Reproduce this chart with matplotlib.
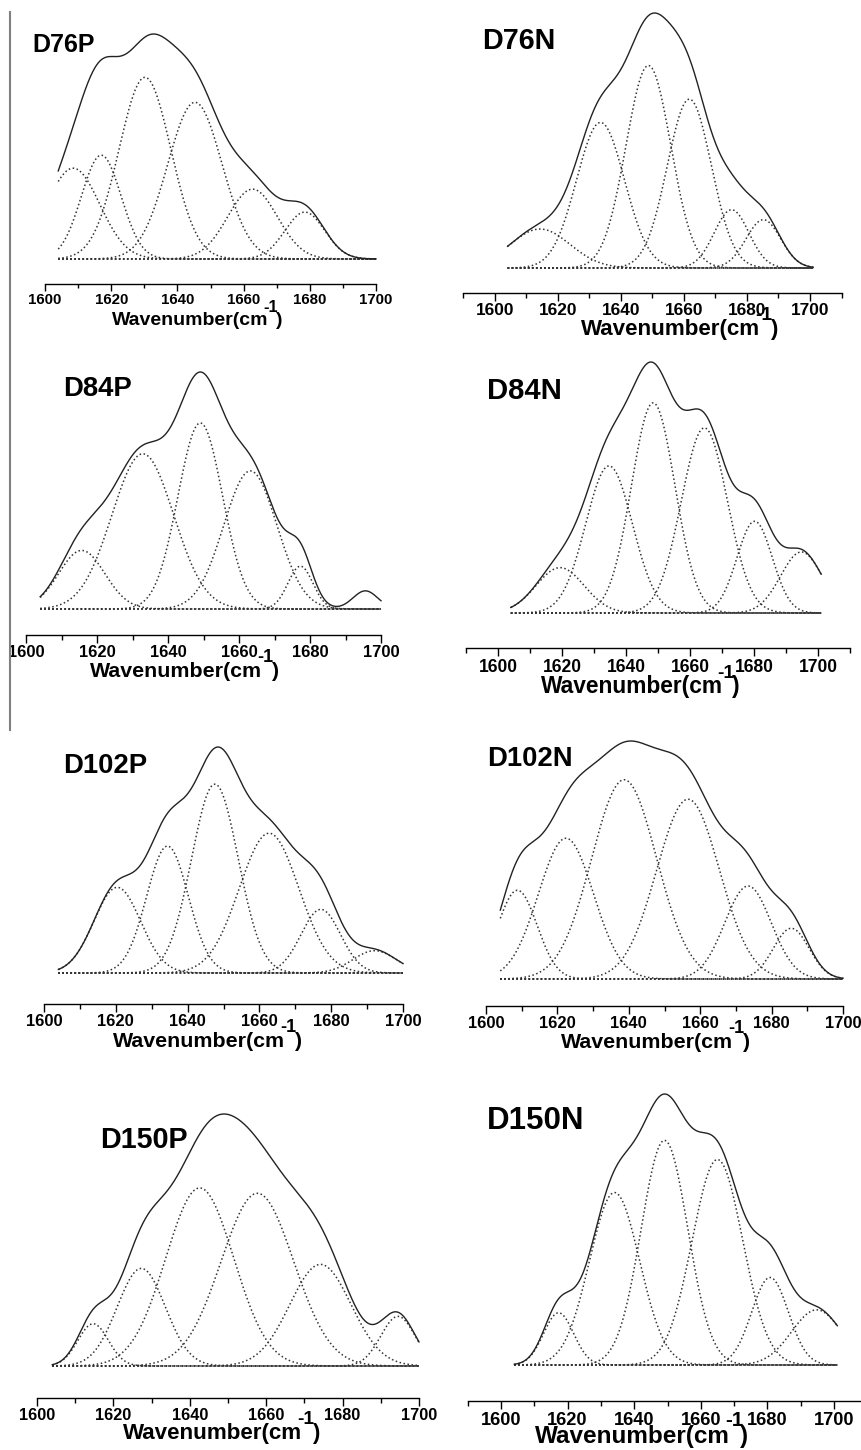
import numpy as np
import matplotlib
matplotlib.use("Agg")
import matplotlib.pyplot as plt
from matplotlib.ticker import MultipleLocator
from matplotlib.lines import Line2D

plt.rcParams['font.family'] = ['Liberation Sans', 'DejaVu Sans']
plt.rcParams['font.weight'] = 'bold'

PANELS = ["D76P", "D76N", "D84P", "D84N", "D102P", "D102N", "D150P", "D150N"]

# fitted amide I bands: centre (cm-1), height (relative), sigma (cm-1)
D76P_CENTERS = [1608.5, 1617.0, 1630.2, 1645.3, 1662.7, 1678.5]
D76P_HEIGHTS = [91, 104, 182, 157, 70, 47]
D76P_WIDTHS = [8.0, 6.0, 7.8, 8.2, 7.5, 6.0]

D76N_CENTERS = [1614.3, 1633.5, 1648.7, 1661.7, 1675.1, 1685.2]
D76N_HEIGHTS = [117, 437, 608, 507, 175, 145]
D76N_WIDTHS = [9.5, 7.6, 7.1, 7.0, 5.5, 5.5]

D84P_CENTERS = [1615.7, 1632.9, 1649.1, 1663.2, 1677.3]
D84P_HEIGHTS = [171, 453, 543, 403, 125]
D84P_WIDTHS = [6.5, 8.7, 6.3, 7.5, 3.5]

D84N_CENTERS = [1619.4, 1634.7, 1648.5, 1664.5, 1680.2, 1694.8]
D84N_HEIGHTS = [136, 441, 630, 555, 275, 183]
D84N_WIDTHS = [7.5, 7.3, 6.8, 7.2, 5.5, 6.5]

D102P_CENTERS = [1620.4, 1634.4, 1647.6, 1662.7, 1677.1, 1692.1]
D102P_HEIGHTS = [253, 375, 558, 413, 188, 66]
D102P_WIDTHS = [6.5, 5.8, 6.5, 8.3, 5.5, 6.0]

D102N_CENTERS = [1608.8, 1622.4, 1638.7, 1656.6, 1673.4, 1685.5]
D102N_HEIGHTS = [273, 433, 613, 553, 286, 156]
D102N_WIDTHS = [5.5, 7.7, 9.1, 8.8, 6.5, 5.0]

D150P_CENTERS = [1614.7, 1627.3, 1642.6, 1657.7, 1674.2, 1694.5]
D150P_HEIGHTS = [126, 291, 531, 515, 303, 148]
D150P_WIDTHS = [4.0, 6.3, 8.9, 9.5, 8.0, 4.5]

D150N_CENTERS = [1617.3, 1634.1, 1649.1, 1665.0, 1680.8, 1694.8]
D150N_HEIGHTS = [158, 522, 680, 622, 265, 167]
D150N_WIDTHS = [4.5, 7.5, 7.0, 7.6, 5.5, 7.5]

# band present in the measured envelope of D84P but not drawn as a component
D84P_EXTRA_CENTER = 1695.6
D84P_EXTRA_HEIGHT = 53
D84P_EXTRA_WIDTH = 3.5

WN_START = 1604
WN_END = [1700, 1701, 1700, 1701, 1700, 1700, 1700, 1701]
TICK_VALUES = [1600, 1620, 1640, 1660, 1680, 1700]
TICK_LABELS = ["1600", "1620", "1640", "1660", "1680", "1700"]
XLABEL_PARTS = ["Wavenumber(cm", "-1", ")"]

CENTERS = dict(zip(PANELS, [D76P_CENTERS, D76N_CENTERS, D84P_CENTERS, D84N_CENTERS,
                            D102P_CENTERS, D102N_CENTERS, D150P_CENTERS, D150N_CENTERS]))
HEIGHTS = dict(zip(PANELS, [D76P_HEIGHTS, D76N_HEIGHTS, D84P_HEIGHTS, D84N_HEIGHTS,
                            D102P_HEIGHTS, D102N_HEIGHTS, D150P_HEIGHTS, D150N_HEIGHTS]))
WIDTHS = dict(zip(PANELS, [D76P_WIDTHS, D76N_WIDTHS, D84P_WIDTHS, D84N_WIDTHS,
                           D102P_WIDTHS, D102N_WIDTHS, D150P_WIDTHS, D150N_WIDTHS]))

# layout in pixels: x of 1600, x of 1700, xlim, axis line y, baseline y, top y
LAYOUT = [
    (45, 376, 1600, 1700, 284, 259, 34),
    (495, 810, 1590, 1710, 293, 268, 13),
    (26, 381, 1600, 1700, 635, 609, 372),
    (498, 818, 1590, 1710, 648, 613, 362),
    (44, 403, 1600, 1700, 1004, 973, 747),
    (486, 843, 1600, 1700, 1006, 979, 741),
    (37, 419, 1600, 1700, 1398, 1366, 1114),
    (501, 834, 1590, 1710, 1401, 1365, 1094),
]
# title (left x, centre y), xlabel (centre x, baseline y), text scales
TITLE_POS = [(32, 45), (482, 41), (63, 389), (487, 391), (63, 766), (487, 759), (100, 1140), (487, 1121)]
XLABEL_POS = [(197, 325), (679, 335), (184, 677), (640, 693), (207, 1047), (655, 1048), (221, 1439), (642, 1443)]
SCALE = [1.0, 1.15, 1.10, 1.17, 1.10, 1.10, 1.15, 1.25]
TICK_SCALE = [1.0, 1.15, 1.10, 1.17, 1.10, 1.10, 1.08, 1.22]

W, H = 861, 1450


def gauss(x, c, h, s):
    return h * np.exp(-(x - c) ** 2 / (2 * s ** 2))


fig = plt.figure(figsize=(W / 100, H / 100), dpi=100)
renderer = fig.canvas.get_renderer()


def wavenumber_label(cx, base_y, size):
    # "Wavenumber(cm" + raised "-1" + ")" set close together
    px = size * 100 / 72
    main = fig.text(0, 1 - base_y / H, XLABEL_PARTS[0], fontsize=size,
                    fontweight='bold', va='baseline')
    sup = fig.text(0, 1 - (base_y - 0.68 * px) / H, XLABEL_PARTS[1], fontsize=0.85 * size,
                   fontweight='bold', va='baseline')
    close = fig.text(0, 1 - base_y / H, XLABEL_PARTS[2], fontsize=size,
                     fontweight='bold', va='baseline')
    parts = [main, sup, close]
    kern = [0, -0.22 * px, -0.12 * px]
    widths = [t.get_window_extent(renderer).width for t in parts]
    total = sum(widths) + sum(kern)
    x0 = cx - total / 2
    for t, w, k in zip(parts, widths, kern):
        x0 += k
        t.set_x(x0 / W)
        x0 += w


for i, name in enumerate(PANELS):
    x16, x17, xmin, xmax, axis_y, base_y, top_y = LAYOUT[i]
    s = SCALE[i]
    ts = TICK_SCALE[i]
    ppu = (x17 - x16) / 100.0
    left = x16 + (xmin - 1600) * ppu
    right = x16 + (xmax - 1600) * ppu
    ax = fig.add_axes([left / W, 1 - axis_y / H, (right - left) / W, (axis_y - top_y) / H])

    x = np.linspace(WN_START, WN_END[i], 600)
    comps = [gauss(x, c, h, w) for c, h, w in zip(CENTERS[name], HEIGHTS[name], WIDTHS[name])]
    env = np.sum(comps, axis=0)
    if name == "D84P":
        env = env + gauss(x, D84P_EXTRA_CENTER, D84P_EXTRA_HEIGHT, D84P_EXTRA_WIDTH)

    ymax = env.max()
    ylow = -ymax * (axis_y - base_y) / (base_y - top_y)
    ax.set_xlim(xmin, xmax)
    ax.set_ylim(ylow, ymax)

    ax.plot([WN_START, WN_END[i]], [0, 0], color='#333333', lw=1.1, ls=':', clip_on=False)
    for g in comps:
        ax.plot(x, g, color='#333333', lw=1.1, ls=':', clip_on=False)
    ax.plot(x, env, color='#222222', lw=1.0, clip_on=False)

    for side in ['left', 'top', 'right']:
        ax.spines[side].set_visible(False)
    ax.spines['bottom'].set_linewidth(1.0)
    ax.set_yticks([])
    ax.set_xticks(TICK_VALUES)
    ax.set_xticklabels(TICK_LABELS, fontsize=10.8 * ts, fontweight='bold')
    ax.xaxis.set_minor_locator(MultipleLocator(10))
    ax.tick_params(axis='x', which='major', length=5 * ts, width=1.0, pad=1.5 * ts)
    ax.tick_params(axis='x', which='minor', length=3 * ts, width=1.0)
    ax.patch.set_visible(False)

    tx, ty = TITLE_POS[i]
    fig.text(tx / W, 1 - ty / H, name, fontsize=18 * s, fontweight='bold',
             ha='left', va='center')
    lx, ly = XLABEL_POS[i]
    wavenumber_label(lx, ly, 14 * s)

fig.add_artist(Line2D([10 / W, 10 / W], [1 - 12 / H, 1 - 730 / H],
                      color='#808080', lw=1.5))

fig.savefig("out.png", dpi=100)
